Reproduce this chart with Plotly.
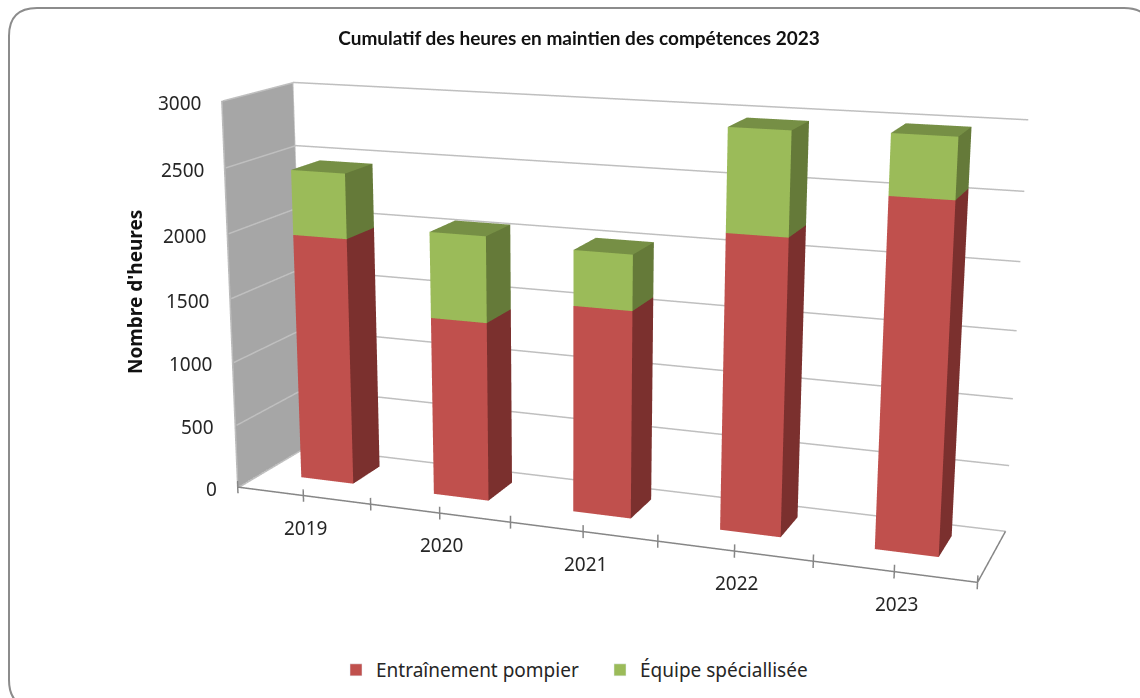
import numpy as np
import plotly.graph_objects as go

years = ["2019", "2020", "2021", "2022", "2023"]
entrainement = [1939, 1387, 1577, 2200, 2538]
equipe = [501, 657, 416, 749, 430]
zticks = [0, 500, 1000, 1500, 2000, 2500, 3000]
series_names = ["Entraînement pompier", "Équipe spéciallisée"]

# Excel-like 3-D box: linear map of (category, depth, hours) into the plotly scene
MAP = [2.4543, 0.181, 0.0005, -1.1831, 1.3346, 0.1199, -0.2362, -0.4917, 0.1815, -0.3719, -0.1385]
BX0, BX1, BY0, BY1 = 0.301, 0.6989, 0.3587, 0.7825
EYE = 3.0

def sc(x, y, z):
    u, v, w = x / 5, y, z / 3000
    a1, a2, a3, a4, c1, c2, c3, c4, d, e, g = MAP
    return a1*u + a2*v + a3*w + a4, d*v + e*u + g*w, c1*w + c2*v + c3*u + c4

fig = go.Figure()
LIGHT = dict(ambient=1, diffuse=0, specular=0, fresnel=0, roughness=1)

def lines(segs, color, width):
    X, Y, Z = [], [], []
    for a, b in segs:
        for pt in (a, b):
            s = sc(*pt); X.append(s[0]); Y.append(s[1]); Z.append(s[2])
        X.append(None); Y.append(None); Z.append(None)
    fig.add_trace(go.Scatter3d(x=X, y=Y, z=Z, mode="lines", line=dict(color=color, width=width),
                               showlegend=False, hoverinfo="skip"))

def mesh(quads):
    X, Y, Z, I, J, K, C = [], [], [], [], [], [], []
    for pts, col in quads:
        n = len(X)
        for pt in pts:
            s = sc(*pt); X.append(s[0]); Y.append(s[1]); Z.append(s[2])
        I.extend([n, n]); J.extend([n+1, n+2]); K.extend([n+2, n+3]); C.extend([col, col])
    fig.add_trace(go.Mesh3d(x=X, y=Y, z=Z, i=I, j=J, k=K, facecolor=C, flatshading=True,
                            showlegend=False, lighting=LIGHT, hoverinfo="skip"))

def bars(base, heights, cf, cs, ct):
    Q = []
    for i, (b, h) in enumerate(zip(base, heights)):
        x0, x1 = i + BX0, i + BX1
        z0, z1 = b, b + h
        Q.append((((x0, BY0, z0), (x1, BY0, z0), (x1, BY0, z1), (x0, BY0, z1)), cf))
        Q.append((((x1, BY0, z0), (x1, BY1, z0), (x1, BY1, z1), (x1, BY0, z1)), cs))
        Q.append((((x0, BY0, z1), (x1, BY0, z1), (x1, BY1, z1), (x0, BY1, z1)), ct))
    mesh(Q)

mesh([(((0, 0, 0), (0, 1, 0), (0, 1, 3000), (0, 0, 3000)), "#A6A6A6")])
lines([((.01, 0, z), (.01, 1, z)) for z in zticks] + [((0, 1, z), (5, 1, z)) for z in zticks]
      + [((0, 1, 0), (0, 1, 3000)), ((0, 0, 0), (0, 0, 3000))], "#BFBFBF", 3)
lines([((0, 0, 0), (5, 0, 0)), ((5, 0, 0), (5, 1, 0))] + [((i/2, 0, -50), (i/2, 0, 50)) for i in range(11)],
      "#868686", 3)
bars([0]*5, entrainement, "#C0504D", "#7B302E", "#7B302E")
bars(entrainement, equipe, "#9BBB59", "#657A39", "#768F45")
fig.add_trace(go.Bar(x=[None], y=[None], name=series_names[0], marker_color="#C0504D"))
fig.add_trace(go.Bar(x=[None], y=[None], name=series_names[1], marker_color="#9BBB59"))

axfont = dict(family="Noto Sans", size=19, color="#262626")
ann3 = []
for i, y in enumerate(years):
    s = sc(i + .5, 0, 0)
    ann3.append(dict(x=s[0], y=s[1], z=s[2], text=y, showarrow=False, font=axfont, xanchor="center",
                     yanchor="middle", xshift=2, yshift=-32))
for z in zticks:
    s = sc(0, 0, z)
    ann3.append(dict(x=s[0], y=s[1], z=s[2], text=str(z), showarrow=False, font=axfont, xanchor="right",
                     yanchor="middle", xshift=-19, yshift=-2))

W, H = 1140, 698
px = lambda v: v / W
py = lambda v: 1 - v / H
L, R, Tp, B, rad = 9, 1152, 8, 708, 28
border = (f"M {px(L+rad)} {py(Tp)} L {px(R-rad)} {py(Tp)} Q {px(R)} {py(Tp)} {px(R)} {py(Tp+rad)} "
          f"L {px(R)} {py(B-rad)} Q {px(R)} {py(B)} {px(R-rad)} {py(B)} L {px(L+rad)} {py(B)} "
          f"Q {px(L)} {py(B)} {px(L)} {py(B-rad)} L {px(L)} {py(Tp+rad)} Q {px(L)} {py(Tp)} {px(L+rad)} {py(Tp)} Z")
hid = dict(visible=False, range=[-3, 3], showgrid=False, showbackground=False, showline=False,
           showticklabels=False, showspikes=False, zeroline=False, title=dict(text=""))
fig.update_layout(
    width=W, height=H, margin=dict(l=0, r=0, t=0, b=0), paper_bgcolor="white", plot_bgcolor="rgba(0,0,0,0)",
    xaxis=dict(visible=False), yaxis=dict(visible=False),
    title=dict(text="Cumulatif des heures en maintien des compétences 2023", x=579/W, xanchor="center",
               y=1-38/H, yanchor="middle", font=dict(family="Lato", size=19, color="#111111", weight="bold")),
    showlegend=True,
    legend=dict(orientation="h", x=336/W, xanchor="left", y=1-670/H, yanchor="middle", entrywidth=219,
                entrywidthmode="pixels", font=dict(family="Noto Sans", size=19, color="#262626")),
    shapes=[dict(type="path", path=border, xref="paper", yref="paper", line=dict(color="#8C8C8C", width=2),
                 fillcolor="rgba(0,0,0,0)")],
    annotations=[dict(text="Nombre d'heures", x=135/W, y=1-292/H, xref="paper", yref="paper", showarrow=False,
                      xanchor="center", yanchor="middle", textangle=-90,
                      font=dict(family="Noto Sans", size=19, color="#111111", weight="bold"))],
    scene=dict(domain=dict(x=[0, 1], y=[0, 1]), aspectmode="manual", aspectratio=dict(x=6, y=6, z=6),
               camera=dict(eye=dict(x=0, y=-EYE, z=0), center=dict(x=0, y=0, z=0), up=dict(x=0, y=0, z=1),
                           projection=dict(type="perspective")),
               xaxis=hid, yaxis=hid, zaxis=hid, annotations=ann3))
fig.write_html("out.html", post_script="document.body.style.margin='0';", config=dict(displayModeBar=False))
